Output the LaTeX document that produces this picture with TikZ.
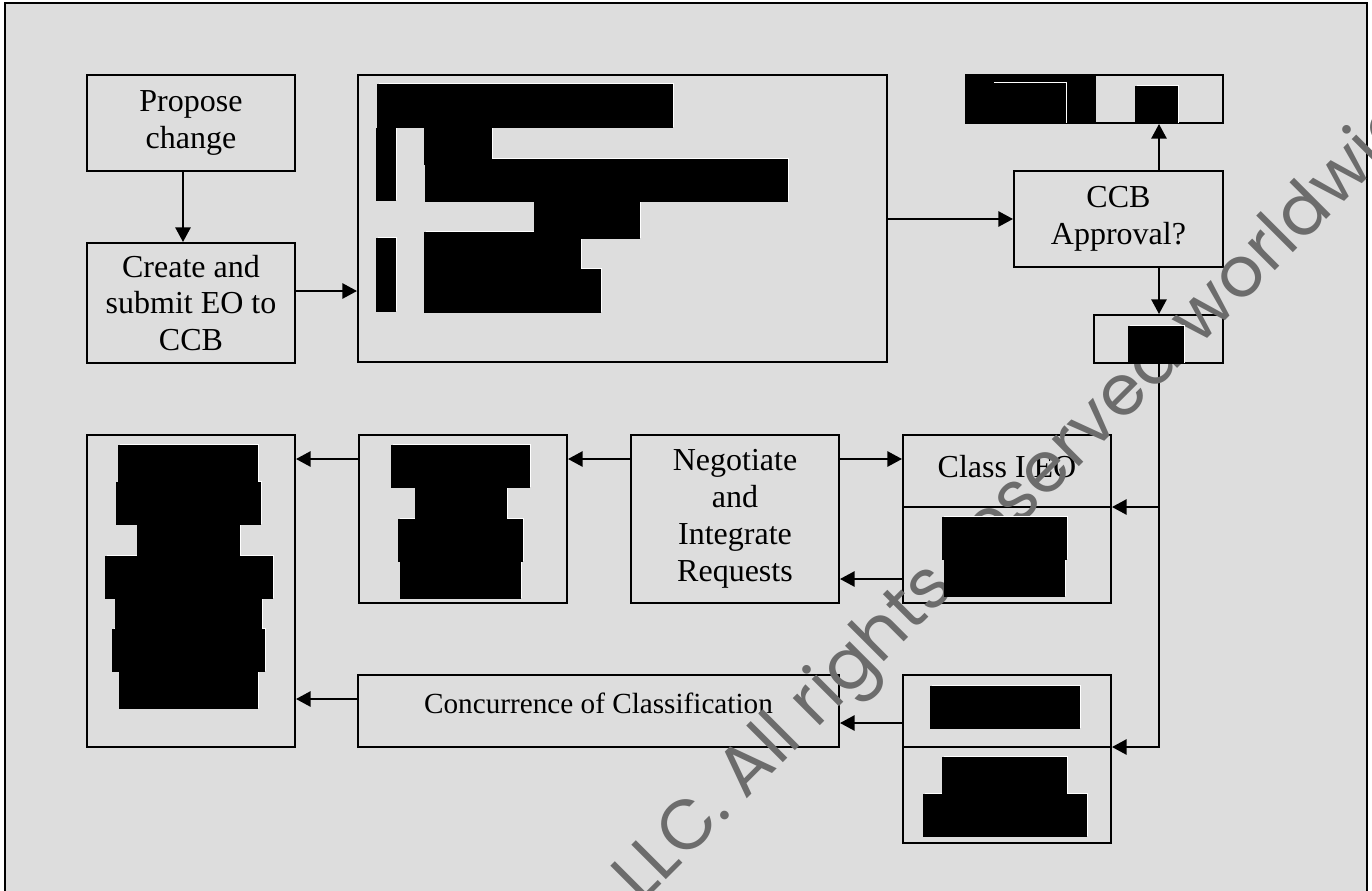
\documentclass[tikz,border=0pt]{standalone}
\usepackage{fontspec}
\setmainfont{Liberation Serif}
\newfontfamily\wmfont{Poppins}
\usetikzlibrary{arrows.meta}
\definecolor{bg}{RGB}{221,221,221}
\definecolor{wm}{RGB}{108,108,108}
\def\blocklist{377/84/673/128, 376/128/396/201, 424/128/492/165, 425/159/788/202, 534/202/640/239, 424/232/581/269, 424/269/601/313, 376/238/396/312, 1135/86/1178/124, 1128/326/1184/364, 992/83/1066/124, 118/445/258/482, 116/482/261/525, 137/525/240/556, 105/556/273/599, 115/599/262/629, 112/629/265/672, 119/672/258/709, 391/445/530/488, 415/488/507/519, 398/519/523/562, 400/562/521/599, 942/517/1067/560, 944/560/1065/597, 930/686/1080/729, 942/757/1067/794, 923/794/1087/837}
\begin{document}
\begin{tikzpicture}[x=0.5pt,y=-0.5pt,
  box/.style={draw, line width=1pt, fill=bg, inner sep=0pt, align=center, font=\fontsize{16}{18.4}\selectfont},
  lbl/.style={inner sep=0pt, anchor=base, font=\fontsize{16}{18.4}\selectfont},
  arr/.style={line width=1pt, -{Triangle[length=7.3pt,width=7.6pt]}},
  wmtext/.style={text=wm, inner sep=0pt, font=\wmfont\fontsize{35}{42}\selectfont}
]
\useasboundingbox (0,0) rectangle (1372,890);
\clip (0,0) rectangle (1372,890);
\fill[white] (0,0) rectangle (1372,890);
\draw[line width=1pt, fill=bg] (5,3) rectangle (1367,900);

% upper row
\node[box, minimum width=104pt, minimum height=48pt] (prop) at (191,123) {Propose\\change};
\node[box, minimum width=104pt, minimum height=60pt] (create) at (191,303) {Create and\\submit EO to\\CCB};
\node[box, minimum width=264.5pt, minimum height=143.5pt] (big) at (622.5,218.5) {};
\node[box, minimum width=128.5pt, minimum height=24pt] (topr) at (1094.5,99) {};
\node[box, minimum width=104.5pt, minimum height=48pt] (ccb) at (1118.5,219) {CCB\\Approval?};
\node[box, minimum width=64.5pt, minimum height=24pt] (small) at (1158.5,339) {};

% lower rows
\node[box, minimum width=104pt, minimum height=155.85pt] (left) at (191,590.85) {};
\node[box, minimum width=104pt, minimum height=84pt] (mid2) at (463,519) {};
\node[box, minimum width=104pt, minimum height=84pt] (nego) at (735,519) {Negotiate\\and\\Integrate\\Requests};
\node[box, minimum width=104pt, minimum height=84pt] (class1) at (1007,519) {};
\node[box, minimum width=240.5pt, minimum height=36pt] (conc) at (598.5,711) {};
\node[box, minimum width=104pt, minimum height=83.75pt] (bot) at (1007,758.75) {};

\draw[line width=1pt] (class1.west |- 0,507) -- (class1.east |- 0,507);
\draw[line width=1pt] (bot.west |- 0,747) -- (bot.east |- 0,747);

\node[lbl] (classlbl) at (1007,477) {Class I EO};
\node[lbl, font=\fontsize{14.6}{16}\selectfont] (conclbl) at (598.5,713) {Concurrence of Classification};

% connectors
\coordinate (j1) at (1159,507);
\coordinate (j2) at (1159,747);
\draw[arr] ([xshift=-4pt]prop.south) -- ([xshift=-4pt]create.north);
\draw[arr] (create.east |- 0,291) -- (big.west |- 0,291);
\draw[arr] (big.east |- 0,219) -- (ccb.west |- 0,219);
\draw[arr] (ccb.north -| j1) -- (topr.south -| j1);
\draw[arr] (ccb.south -| j1) -- (small.north -| j1);
\draw[line width=1pt] (small.south -| j1) -- (j1);
\draw[arr] (j1) -- (class1.east |- j1);
\draw[arr] (j1) -- (j2) -- (bot.east |- j2);
\draw[arr] (nego.west |- 0,459) -- (mid2.east |- 0,459);
\draw[arr] (mid2.west |- 0,459) -- (left.east |- 0,459);
\draw[arr] (nego.east |- 0,459) -- (class1.west |- 0,459);
\draw[arr] (class1.west |- 0,579) -- (nego.east |- 0,579);
\draw[arr] (bot.west |- 0,723) -- (conc.east |- 0,723);
\draw[arr] (conc.west |- 0,699) -- (left.east |- 0,699);

% watermark
\node[wmtext, rotate=45, anchor=base west] (wmark) at (641,905) {LLC. All rights reserved worldwide};

% redaction blocks
\fill[black] (966,74) rectangle (1096,123.5);
\foreach \a/\b/\c/\d in \blocklist {
  \draw[white, line width=0.6pt] (\a+2,\b-0.8) -- (\c+0.8,\b-0.8) -- (\c+0.8,\d-1);
}
\foreach \a/\b/\c/\d in \blocklist {
  \fill[black] (\a,\b) rectangle (\c,\d);
}
\end{tikzpicture}
\end{document}
